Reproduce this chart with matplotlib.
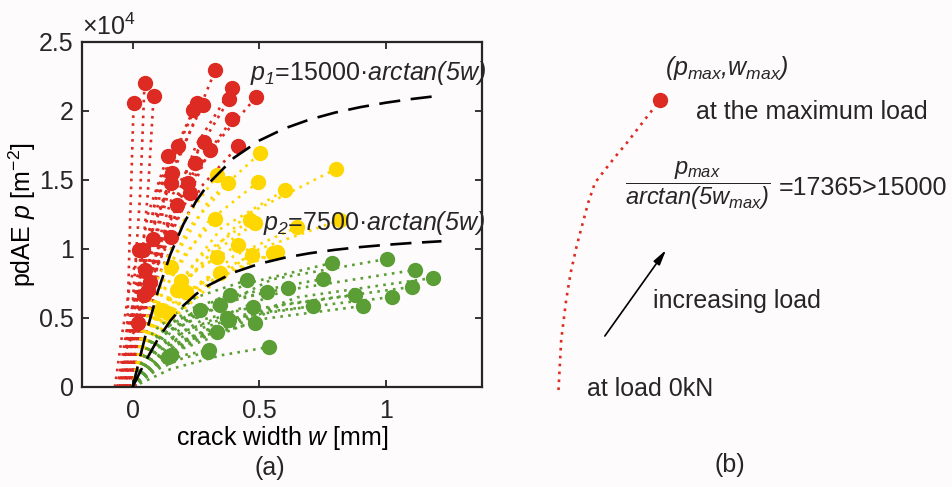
import matplotlib

matplotlib.use("Agg")
import matplotlib.pyplot as plt
from matplotlib.ticker import FixedLocator, FixedFormatter

plt.rcParams["font.family"] = ["Liberation Sans", "DejaVu Sans"]
# the source figure sets all formula text in italic, digits and brackets included
plt.rcParams["mathtext.fontset"] = "custom"
plt.rcParams["mathtext.rm"] = "Liberation Sans:italic"
plt.rcParams["mathtext.it"] = "Liberation Sans:italic"
plt.rcParams["mathtext.bf"] = "Liberation Sans:bold"
plt.rcParams["text.color"] = "#262626"

# (a) load paths: (crack width w [mm], pdAE p [m^-2])
red_paths = [
    ([-0.03, -0.02, -0.01, 0.004], [0, 5000, 12000, 20580]),
    ([-0.01, 0.0, 0.03, 0.047], [0, 6000, 14000, 22030]),
    ([0.0, 0.02, 0.06, 0.083], [0, 6000, 14000, 21090]),
    ([0.0, 0.05, 0.17, 0.327], [0, 8000, 16000, 22970]),
    ([0.0, 0.08, 0.25, 0.394], [0, 9000, 17500, 21670]),
    ([0.0, 0.07, 0.22, 0.382], [0, 8000, 16000, 20870]),
    ([0.01, 0.10, 0.30, 0.488], [0, 9000, 17000, 21010]),
    ([-0.02, 0.03, 0.12, 0.256], [0, 7000, 15000, 20580]),
    ([-0.03, 0.02, 0.10, 0.240], [0, 7000, 14500, 20070]),
    ([-0.01, 0.05, 0.15, 0.276], [0, 8000, 15500, 20430]),
    ([0.0, 0.08, 0.24, 0.394], [0, 8500, 15500, 19420]),
    ([0.01, 0.10, 0.27, 0.417], [0, 8000, 14500, 17460]),
    ([-0.01, 0.05, 0.16, 0.280], [0, 7500, 14000, 17750]),
    ([0.0, 0.07, 0.19, 0.307], [0, 7500, 13500, 17170]),
    ([-0.03, 0.02, 0.09, 0.181], [0, 7000, 13500, 17460]),
    ([-0.04, 0.0, 0.06, 0.138], [0, 6000, 12500, 16740]),
    ([-0.01, 0.05, 0.15, 0.248], [0, 7000, 12500, 16230]),
    ([-0.03, 0.01, 0.08, 0.157], [0, 6000, 11500, 15510]),
    ([-0.05, 0.0, 0.07, 0.150], [0, 5500, 11000, 14780]),
    ([-0.02, 0.04, 0.13, 0.220], [0, 6500, 11500, 14780]),
    ([-0.01, 0.05, 0.14, 0.228], [0, 6000, 11000, 14060]),
    ([-0.04, 0.02, 0.10, 0.177], [0, 5500, 10000, 13190]),
    ([-0.03, 0.02, 0.09, 0.150], [0, 5000, 8500, 10870]),
    ([-0.06, -0.02, 0.03, 0.079], [0, 4500, 8000, 10720]),
    ([-0.07, -0.04, -0.01, 0.024], [0, 4000, 7500, 9930]),
    ([-0.05, -0.02, 0.059], [0, 3500, 7030]),
    ([-0.03, 0.0, 0.043], [0, 3500, 6670]),
    ([-0.04, -0.01, 0.039], [0, 4500, 9930]),
    ([-0.02, 0.02, 0.067], [0, 4000, 7610]),
    ([-0.05, -0.01, 0.050], [0, 4500, 8480]),
    ([-0.06, -0.03, 0.020], [0, 2500, 4640]),
]

yellow_paths = [
    ([0.0, 0.08, 0.20, 0.335], [0, 7000, 12000, 15360]),
    ([0.0, 0.10, 0.22, 0.378], [0, 7000, 11500, 14780]),
    ([0.0, 0.12, 0.30, 0.504], [0, 8000, 13500, 16960]),
    ([0.0, 0.12, 0.30, 0.496], [0, 7000, 12000, 14860]),
    ([0.0, 0.14, 0.35, 0.602], [0, 6500, 11500, 14280]),
    ([0.0, 0.15, 0.45, 0.803], [0, 6500, 12500, 15800]),
    ([0.0, 0.08, 0.20, 0.327], [0, 5500, 9500, 12170]),
    ([0.0, 0.10, 0.27, 0.465], [0, 5500, 9500, 12100]),
    ([0.0, 0.11, 0.30, 0.484], [0, 5500, 9500, 11880]),
    ([0.0, 0.15, 0.40, 0.650], [0, 5500, 9500, 11590]),
    ([0.0, 0.18, 0.50, 0.819], [0, 6000, 10000, 12100]),
    ([0.0, 0.13, 0.35, 0.571], [0, 4500, 8000, 9780]),
    ([0.0, 0.10, 0.28, 0.472], [0, 4500, 7800, 9570]),
    ([0.0, 0.09, 0.25, 0.417], [0, 5000, 8500, 10290]),
    ([0.0, 0.12, 0.33, 0.555], [0, 4500, 8000, 9710]),
    ([0.0, 0.07, 0.20, 0.335], [0, 4500, 7800, 9420]),
    ([0.0, 0.08, 0.20, 0.346], [0, 4000, 6800, 8260]),
    ([0.0, 0.05, 0.12, 0.209], [0, 3500, 5500, 6880]),
    ([0.0, 0.04, 0.10, 0.177], [0, 3500, 5500, 7030]),
    ([0.0, 0.04, 0.138], [0, 2800, 5360]),
    ([0.0, 0.03, 0.110], [0, 3000, 5580]),
    ([0.0, 0.04, 0.150], [0, 4500, 8700]),
    ([0.0, 0.05, 0.190], [0, 4000, 7700]),
]

green_paths = [
    ([0.0, 0.15, 0.45, 0.787], [0, 4500, 7500, 8990]),
    ([0.0, 0.20, 0.55, 1.004], [0, 4500, 7800, 9280]),
    ([0.0, 0.20, 0.60, 1.114], [0, 4000, 7000, 8480]),
    ([0.0, 0.22, 0.65, 1.185], [0, 3500, 6500, 7900]),
    ([0.0, 0.20, 0.60, 1.102], [0, 3200, 6000, 7250]),
    ([0.0, 0.20, 0.55, 1.024], [0, 3000, 5500, 6520]),
    ([0.0, 0.18, 0.50, 0.878], [0, 3200, 5700, 6670]),
    ([0.0, 0.20, 0.50, 0.909], [0, 2800, 4900, 5870]),
    ([0.0, 0.15, 0.42, 0.752], [0, 4000, 6700, 7830]),
    ([0.0, 0.15, 0.40, 0.713], [0, 3000, 5000, 5870]),
    ([0.0, 0.12, 0.35, 0.614], [0, 3800, 6200, 7170]),
    ([0.0, 0.10, 0.30, 0.531], [0, 3500, 5800, 6880]),
    ([0.0, 0.10, 0.28, 0.476], [0, 3000, 4900, 5800]),
    ([0.0, 0.12, 0.30, 0.484], [0, 2200, 3800, 4640]),
    ([0.0, 0.08, 0.22, 0.374], [0, 2600, 4200, 5000]),
    ([0.0, 0.08, 0.20, 0.335], [0, 2000, 3300, 3990]),
    ([0.0, 0.08, 0.25, 0.453], [0, 4000, 6500, 7750]),
    ([0.0, 0.08, 0.22, 0.386], [0, 3500, 5600, 6670]),
    ([0.0, 0.06, 0.16, 0.268], [0, 3000, 4700, 5580]),
    ([0.0, 0.10, 0.20, 0.299], [0, 1300, 2100, 2540]),
    ([0.0, 0.06, 0.150], [0, 1300, 2320]),
    ([0.0, 0.15, 0.35, 0.539], [0, 1300, 2300, 2900]),
    ([0.0, 0.08, 0.22, 0.346], [0, 3200, 5100, 5940]),
    ([0.0, 0.09, 0.24, 0.382], [0, 2500, 4100, 4850]),
    ([0.0, 0.08, 0.20, 0.303], [0, 1500, 2300, 2680]),
    ([0.0, 0.05, 0.138], [0, 1200, 2180]),
]

# fitted laws drawn dashed (values of p1 = 15000*arctan(5w) and p2 = 7500*arctan(5w))
fit_w = [0, 0.025, 0.05, 0.1, 0.15, 0.2, 0.25, 0.3, 0.4, 0.5, 0.6, 0.7, 0.8, 0.9, 1.0, 1.1, 1.22]
fit_p1 = [0, 1866, 3675, 6955, 9652, 11781, 13442, 14742, 16607, 17854, 18735,
          19387, 19887, 20282, 20601, 20864, 21125]
fit_p2 = [0, 933, 1838, 3478, 4826, 5890, 6721, 7371, 8304, 8927, 9368,
          9694, 9944, 10141, 10300, 10432, 10562]

x_ticks = [0, 0.5, 1]
x_tick_labels = ["0", "0.5", "1"]
y_ticks = [0, 5000, 10000, 15000, 20000, 25000]
y_tick_labels = ["0", "0.5", "1", "1.5", "2", "2.5"]

# (b) schematic load path, in panel units
sketch_w = [0.130, 0.136, 0.147, 0.157, 0.170, 0.184, 0.196, 0.211, 0.233,
            0.256, 0.282, 0.304, 0.330, 0.356]
sketch_p = [0.125, 0.250, 0.350, 0.418, 0.483, 0.543, 0.593, 0.643, 0.675,
            0.708, 0.743, 0.775, 0.813, 0.850]

RED = "#DD2A22"
YELLOW = "#FFD700"
GREEN = "#5A9E35"
INK = "#262626"
BG = "#FDFBFB"
FS = 18
DOTS = (0, (1, 2.0))

fig = plt.figure(figsize=(9.52, 4.87), dpi=100, facecolor=BG)

# ---- panel (a)
ax = fig.add_axes([82 / 952, 1 - 387 / 487, 400 / 952, 345 / 487])
ax.set_facecolor(BG)


def draw_paths(paths, color):
    for w, p in paths:
        ax.plot(w, p, color=color, linestyle=DOTS, linewidth=1.9, zorder=2)
        ax.plot(w[-1], p[-1], "o", color=color, markersize=10, zorder=3)


draw_paths(red_paths, RED)
draw_paths(yellow_paths, YELLOW)
draw_paths(green_paths, GREEN)

ax.plot(fit_w, fit_p1, color="black", linestyle=(0, (8, 4)), linewidth=1.9, zorder=4)
ax.plot(fit_w, fit_p2, color="black", linestyle=(0, (8, 4)), linewidth=1.9, zorder=4)

ax.text(0.465, 22250, r"$p_{1}$=15000·$arctan(5w)$", fontsize=FS,
        va="baseline", zorder=5)
ax.text(0.516, 11380, r"$p_{2}$=7500·$arctan(5w)$", fontsize=FS,
        va="baseline", zorder=5)

ax.set_xlim(-0.2, 1.38)
ax.set_ylim(0, 25000)
ax.xaxis.set_major_locator(FixedLocator(x_ticks))
ax.xaxis.set_major_formatter(FixedFormatter(x_tick_labels))
ax.yaxis.set_major_locator(FixedLocator(y_ticks))
ax.yaxis.set_major_formatter(FixedFormatter(y_tick_labels))
ax.tick_params(direction="in", top=True, right=True, length=5, width=1.3,
               labelsize=FS, colors=INK, pad=6)
ax.tick_params(axis="x", pad=9)
for s in ax.spines.values():
    s.set_linewidth(1.6)
    s.set_color(INK)
ax.text(0.0, 1.02, r"×10$^{\mathregular{4}}$", transform=ax.transAxes, fontsize=FS,
        va="baseline")
ax.set_xlabel("crack width $w$ [mm]", fontsize=FS, labelpad=0)
ax.set_ylabel(r"pdAE $p$ [m$^{\mathregular{-2}}$]", fontsize=FS, labelpad=1)

# ---- panel (b)
bx = fig.add_axes([500 / 952, 1 - 440 / 487, 450 / 952, 400 / 487])
bx.set_xlim(0, 1)
bx.set_ylim(0, 1)
bx.axis("off")
bx.plot(sketch_w, sketch_p, color=RED, linestyle=DOTS, linewidth=1.9)
bx.plot(sketch_w[-1], sketch_p[-1], "o", color=RED, markersize=10)
bx.text(0.504, 0.929, r"$(p_{max}{,}w_{max})$", fontsize=FS, ha="center", va="center")
bx.text(0.436, 0.8025, "at the maximum load", fontsize=FS, va="baseline")
bx.text(0.44, 0.635, r"$\dfrac{p_{max}}{arctan(5w_{max})}$", fontsize=17,
        ha="center", va="center")
bx.text(0.62, 0.6125, "=17365>15000", fontsize=FS, va="baseline")
bx.annotate("", xy=(0.369, 0.475), xytext=(0.233, 0.26),
            arrowprops=dict(arrowstyle="-|>,head_width=0.22,head_length=0.9",
                            color="black", lw=1.2, shrinkA=0, shrinkB=0))
bx.text(0.34, 0.33, "increasing load", fontsize=FS, va="baseline")
bx.text(0.193, 0.11, "at load 0kN", fontsize=FS, va="baseline")

fig.text(270 / 952, 1 - 468 / 487, "(a)", fontsize=FS, ha="center", va="center")
fig.text(730 / 952, 1 - 465 / 487, "(b)", fontsize=FS, ha="center", va="center")

fig.savefig("out.png", dpi=100, facecolor=fig.get_facecolor())
